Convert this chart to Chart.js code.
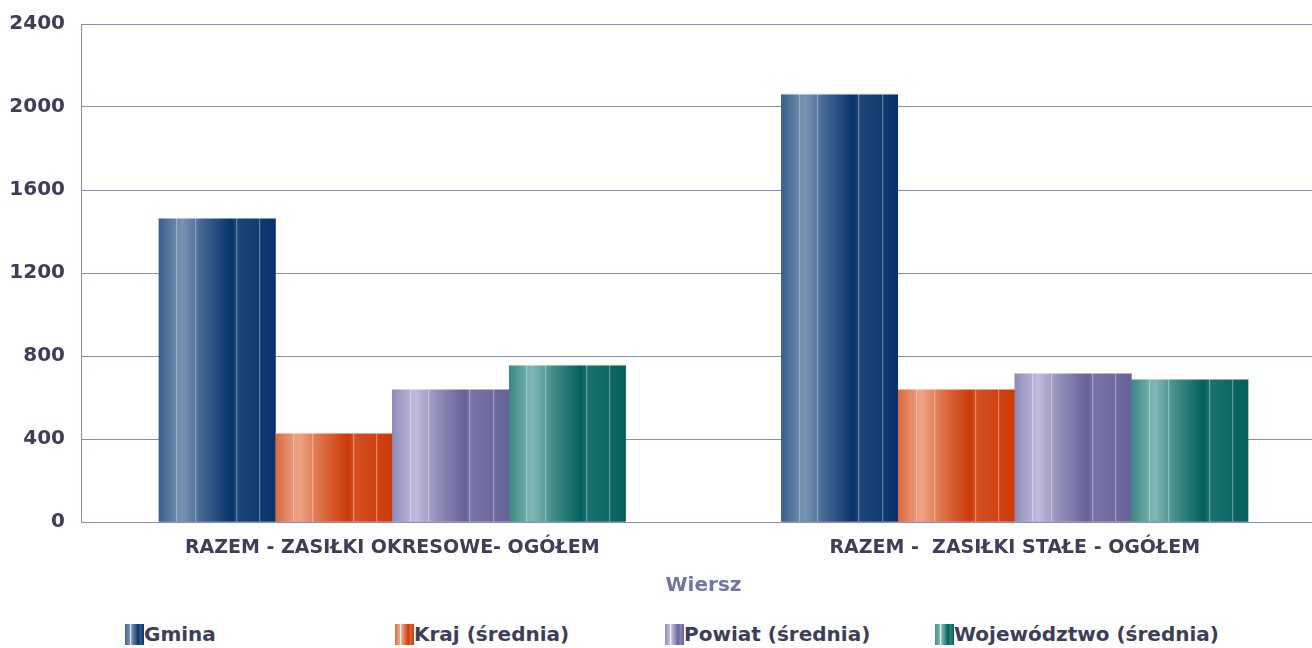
<!DOCTYPE html>
<html>
<head>
<meta charset="utf-8">
<script src="https://cdn.jsdelivr.net/npm/chart.js@4/dist/chart.umd.min.js"></script>
<style>
  body { margin: 0; background: #fff; font-family: "DejaVu Sans", sans-serif; }
  #wrap { position: relative; width: 1312px; height: 648px; overflow: hidden; }
  #legend { position: absolute; left: 0; top: 622px; width: 1312px; height: 24px; }
  .item { position: absolute; top: 0; display: flex; align-items: center; font-weight: bold; font-size: 20px; color: #3e3e58; }
  .icon { width: 19px; height: 21px; }
</style>
</head>
<body>
<div id="wrap">
  <!-- plot runs a little past the right edge, as in the original -->
  <canvas id="myChart" width="1326" height="600"></canvas>
  <div id="legend"></div>
</div>
<script>
var categories = ["RAZEM - ZASIŁKI OKRESOWE- OGÓŁEM", "RAZEM -  ZASIŁKI STAŁE - OGÓŁEM"];
var seriesNames = ["Gmina", "Kraj (średnia)", "Powiat (średnia)", "Województwo (średnia)"];
var gmina = [1465, 2063];
var kraj = [429, 641];
var powiat = [641, 718];
var wojewodztwo = [757, 689];
var yTicks = [0, 400, 800, 1200, 1600, 2000, 2400];

// light / dark shades for every series
var shades = [
  ["#7894b4", "#07336a"],
  ["#eea587", "#cc3a08"],
  ["#c0bcdc", "#66629a"],
  ["#80b8b3", "#035f5b"]
];

function hex(c) {
  return [parseInt(c.substr(1, 2), 16), parseInt(c.substr(3, 2), 16), parseInt(c.substr(5, 2), 16)];
}
function mix(a, b, t) {
  var x = hex(a), y = hex(b);
  return "rgb(" + x.map(function (v, i) { return Math.round(v + (y[i] - v) * t); }).join(",") + ")";
}
function stops(light, dark) {
  return [
    [0, mix(light, dark, 0.55)],
    [0.2, light],
    [0.36, mix(light, dark, 0.45)],
    [0.62, dark],
    [0.67, mix(light, dark, 0.8)],
    [1, dark]
  ];
}
var stripeAt = [0.15, 0.31, 0.66, 0.86];

// paint each bar with a striped gradient, using the bar geometry from Chart.js
var stripes = {
  id: "stripes",
  afterDatasetsDraw: function (chart) {
    var ctx = chart.ctx;
    chart.data.datasets.forEach(function (ds, i) {
      var meta = chart.getDatasetMeta(i);
      meta.data.forEach(function (bar) {
        var p = bar.getProps(["x", "y", "base", "width"], true);
        var l = p.x - p.width / 2;
        var g = ctx.createLinearGradient(l, 0, l + p.width, 0);
        stops(shades[i][0], shades[i][1]).forEach(function (s) { g.addColorStop(s[0], s[1]); });
        ctx.save();
        ctx.fillStyle = g;
        ctx.fillRect(l, p.y, p.width, p.base - p.y);
        ctx.fillStyle = "rgba(255,255,255,0.35)";
        stripeAt.forEach(function (f) { ctx.fillRect(Math.round(l + p.width * f), p.y, 1.2, p.base - p.y); });
        ctx.fillStyle = "rgba(255,255,255,0.5)";
        ctx.fillRect(l, p.y, p.width, 1);
        ctx.restore();
      });
    });
  }
};

var ctx = document.getElementById("myChart").getContext("2d");
var myChart = new Chart(ctx, {
  type: "bar",
  data: {
    labels: categories,
    datasets: [
      { label: seriesNames[0], data: gmina, backgroundColor: shades[0][1] },
      { label: seriesNames[1], data: kraj, backgroundColor: shades[1][1] },
      { label: seriesNames[2], data: powiat, backgroundColor: shades[2][1] },
      { label: seriesNames[3], data: wojewodztwo, backgroundColor: shades[3][1] }
    ]
  },
  options: {
    responsive: false,
    animation: false,
    layout: { padding: { top: 24, right: 0, left: 0, bottom: 0 } },
    datasets: { bar: { categoryPercentage: 0.75, barPercentage: 1 } },
    plugins: { legend: { display: false }, tooltip: { enabled: false } },
    scales: {
      x: {
        grid: { display: false },
        border: { color: "#8c8cbc", width: 1 },
        ticks: { color: "#3e3e58", padding: 7, font: { family: "DejaVu Sans", size: 19, weight: "bold" } },
        title: { display: true, text: "Wiersz", color: "#7474a4", padding: { top: 0, bottom: 2 }, font: { family: "DejaVu Sans", size: 20, weight: "bold" } },
        afterFit: function (scale) { scale.height = 78; }
      },
      y: {
        min: 0,
        max: 2400,
        afterBuildTicks: function (scale) { scale.ticks = yTicks.map(function (v) { return { value: v }; }); },
        grid: { color: "#8c8cbc", drawTicks: false },
        border: { color: "#8c8cbc", width: 1 },
        ticks: {
          color: "#3e3e58",
          padding: 16,
          font: { family: "DejaVu Sans", size: 20, weight: "bold" },
          callback: function (v) { return String(v); }
        },
        afterFit: function (scale) {
          scale.width = 81;
          scale.paddingTop = 0;
          scale.paddingBottom = 0;
        }
      }
    }
  },
  plugins: [stripes]
});

// legend below the chart, items evenly spread
var legend = document.getElementById("legend");
seriesNames.forEach(function (name, i) {
  var item = document.createElement("div");
  item.className = "item";
  item.style.left = (125 + i * 270) + "px";
  var icon = document.createElement("span");
  icon.className = "icon";
  var l = shades[i][0], d = shades[i][1];
  icon.style.background = "linear-gradient(90deg," + mix(l, d, 0.5) + " 0%," + l + " 25%,#fff 30%," + l + " 35%," + mix(l, d, 0.4) + " 50%," + d + " 70%," + mix(l, d, 0.6) + " 80%," + d + " 100%)";
  var text = document.createElement("span");
  text.textContent = name;
  item.appendChild(icon);
  item.appendChild(text);
  legend.appendChild(item);
});
</script>
</body>
</html>
